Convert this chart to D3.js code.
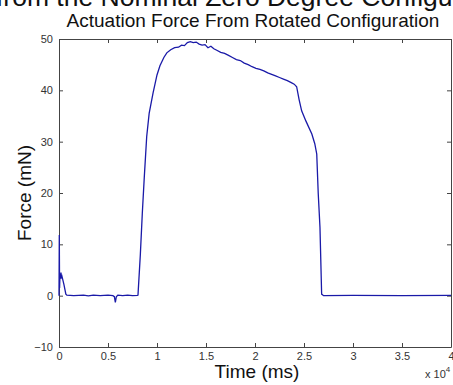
<!DOCTYPE html>
<html>
<head>
<meta charset="utf-8">
<script src="https://cdn.jsdelivr.net/npm/d3@7"></script>
<style>
  body { margin: 0; background: #fff; }
  svg { display: block; font-family: "Liberation Sans", Arial, sans-serif; }
</style>
</head>
<body>
<svg width="453" height="385"></svg>
<script>
// time in units of 10^4 ms, force in mN
const timeK = [0, 0.003, 0.006, 0.01, 0.015, 0.02, 0.025, 0.03, 0.05, 0.07, 0.08,
  0.15, 0.25, 0.3, 0.35, 0.42, 0.5, 0.55, 0.565, 0.575, 0.585, 0.6, 0.65, 0.7, 0.75, 0.8,
  0.806, 0.83, 0.85, 0.87, 0.895, 0.92, 0.96, 1.0, 1.03, 1.07, 1.1, 1.14, 1.18, 1.22, 1.25,
  1.28, 1.31, 1.34, 1.37, 1.4, 1.43, 1.46, 1.49, 1.52, 1.55, 1.58, 1.61, 1.65, 1.69, 1.73,
  1.77, 1.81, 1.85, 1.89, 1.93, 1.97, 2.01, 2.05, 2.09, 2.13, 2.17, 2.21, 2.25, 2.29, 2.33,
  2.37, 2.40, 2.425, 2.45, 2.476, 2.52, 2.58, 2.61, 2.63, 2.645, 2.663, 2.68, 2.7, 3, 3.5, 4]
const forceMN = [0, 11.8, 1.5, 4.2, 3.3, 4.5, 3.6, 3.8, 2.2, 0.3, 0.1,
  0, 0.1, -0.05, 0.1, 0, 0.1, 0, -0.2, -1.3, -0.2, 0.1, 0, 0.1, 0, 0.05,
  0.1, 8, 16, 23, 31, 35.5, 39.5, 43, 44.8, 46.4, 47.3, 47.9, 48.3, 48.4, 48.8,
  48.7, 49.3, 49.5, 49.3, 49.4, 49.0, 48.8, 48.9, 48.3, 48.6, 48.1, 47.8, 47.4, 47.2, 46.8,
  46.4, 46.0, 45.8, 45.3, 45.0, 44.6, 44.3, 44.1, 43.8, 43.4, 43.1, 42.8, 42.5, 42.2, 41.9,
  41.5, 41.2, 40.7, 38.2, 36, 34, 31.5, 29.6, 27.6, 20, 13.3, 0.3, 0, 0.05, 0, 0.05]
const xTicks = [0, 0.5, 1, 1.5, 2, 2.5, 3, 3.5, 4]
const yTicks = [-10, 0, 10, 20, 30, 40, 50]

const svg = d3.select("svg")
const pLeft = 59, pRight = 451, pTop = 39, pBottom = 347

const x = d3.scaleLinear().domain([0, 4]).range([pLeft, pRight])
const y = d3.scaleLinear().domain([-10, 50]).range([pBottom, pTop])

const data = timeK.map((t, i) => ({ t, f: forceMN[i] }))

// axes, ticks pointing inward
const fmt = d => d3.format("")(d)
svg.append("g").attr("transform", `translate(0,${pBottom})`)
  .call(d3.axisBottom(x).tickValues(xTicks).tickFormat(fmt).tickSizeInner(-4).tickSizeOuter(0).tickPadding(5))
svg.append("g").attr("transform", `translate(0,${pTop})`)
  .call(d3.axisTop(x).tickValues(xTicks).tickFormat("").tickSizeInner(-4).tickSizeOuter(0))
svg.append("g").attr("transform", `translate(${pLeft},0)`)
  .call(d3.axisLeft(y).tickValues(yTicks).tickSizeInner(-4).tickSizeOuter(0).tickPadding(6))
svg.append("g").attr("transform", `translate(${pRight},0)`)
  .call(d3.axisRight(y).tickValues(yTicks).tickFormat("").tickSizeInner(-4).tickSizeOuter(0))

svg.selectAll(".domain").attr("stroke", "#444")
svg.selectAll(".tick line").attr("stroke", "#444")
svg.selectAll(".tick text").attr("fill", "#333").style("font-size", "11px")
  .style("font-family", "'Liberation Sans', Arial, sans-serif")

// the line
svg.append("path")
  .datum(data)
  .attr("fill", "none")
  .attr("stroke", "#1a1aa8")
  .attr("stroke-width", 1.3)
  .attr("d", d3.line().x(d => x(d.t)).y(d => y(d.f)))

// titles and labels
svg.append("text").attr("x", -4).attr("y", 6)
  .style("font-size", "26.5px").attr("fill", "#111")
  .text("from the Nominal Zero Degree Configuration")
svg.append("text").attr("x", 253).attr("y", 27).attr("text-anchor", "middle")
  .style("font-size", "19px").attr("fill", "#111")
  .text("Actuation Force From Rotated Configuration")
svg.append("text").attr("x", 257).attr("y", 378).attr("text-anchor", "middle")
  .style("font-size", "19px").attr("fill", "#111")
  .text("Time (ms)")
svg.append("text").attr("transform", "translate(31,193) rotate(-90)").attr("text-anchor", "middle")
  .style("font-size", "19px").attr("fill", "#111")
  .text("Force (mN)")
const mult = svg.append("text").attr("x", 425).attr("y", 378)
  .style("font-size", "11px").attr("fill", "#333")
mult.append("tspan").text("x 10")
mult.append("tspan").attr("dy", -6).style("font-size", "8px").text("4")
</script>
</body>
</html>
